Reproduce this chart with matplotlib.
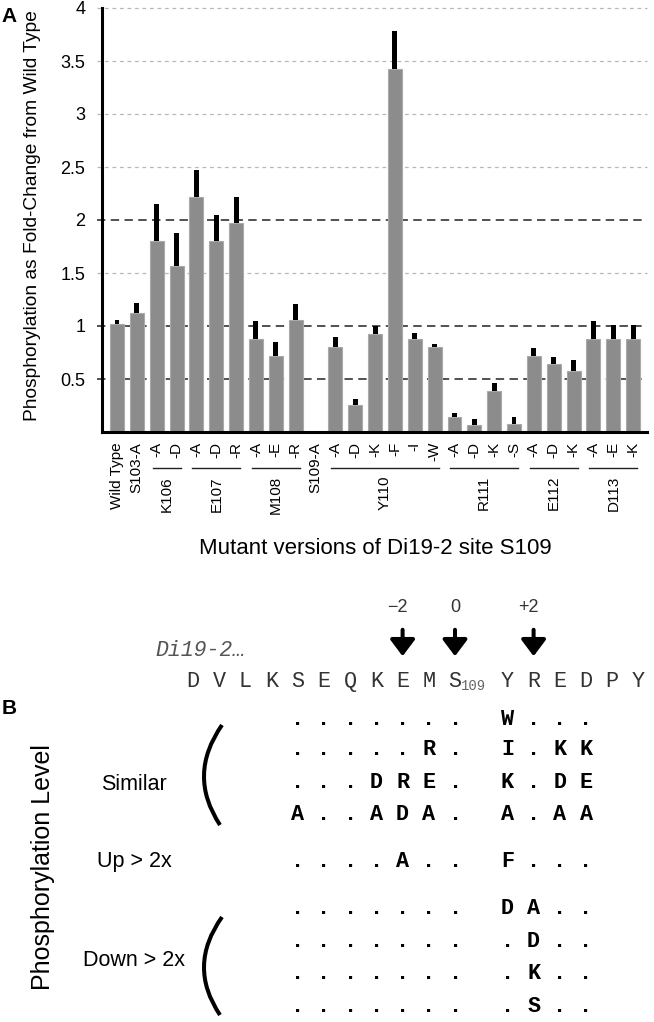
import numpy as np
import matplotlib
matplotlib.use("Agg")
import matplotlib.pyplot as plt
from matplotlib.path import Path
from matplotlib.patches import PathPatch, FancyArrowPatch

plt.rcParams['font.family'] = ['Liberation Sans', 'DejaVu Sans']

# ---- panel A data ----
groups = ["Wild Type", "S103-A", "K106", "E107", "M108", "S109-A",
          "Y110", "R111", "E112", "D113"]
suffixes = [[""], [""], ["-A", "-D"], ["-A", "-D", "-R"], ["-A", "-E", "-R"], [""],
            ["-A", "-D", "-K", "-F", "-I", "-W"], ["-A", "-D", "-K", "-S"],
            ["-A", "-D", "-K"], ["-A", "-E", "-K"]]
fold = [1.02, 1.12, 1.80, 1.57, 2.22, 1.80, 1.97, 0.88, 0.72, 1.06, 0.0,
        0.80, 0.25, 0.92, 3.42, 0.88, 0.80, 0.14, 0.07, 0.39, 0.075,
        0.72, 0.64, 0.58, 0.88, 0.88, 0.88]
err = [0.04, 0.10, 0.35, 0.31, 0.25, 0.25, 0.25, 0.17, 0.13, 0.15, 0.0,
       0.10, 0.065, 0.08, 0.36, 0.05, 0.03, 0.04, 0.05, 0.07, 0.07,
       0.07, 0.07, 0.10, 0.17, 0.13, 0.13]
yticks = [0.5, 1, 1.5, 2, 2.5, 3, 3.5, 4]
ytick_labels = ["0.5", "1", "1.5", "2", "2.5", "3", "3.5", "4"]
light_lines = [1.5, 2.5, 3, 3.5, 4]
dark_lines = [0.5, 1, 2]

# ---- panel B data ----
sequence = ["D", "V", "L", "K", "S", "E", "Q", "K", "E", "M", "S",
            "Y", "R", "E", "D", "P", "Y"]
site = 10
site_number = "109"
marked = [8, 10, 12]
marked_labels = ["\u22122", "0", "+2"]
left_start, right_start = 4, 11
similar_left = [".......", ".....R.", "...DRE.", "A..ADA."]
similar_right = ["W...", "I.KK", "K.DE", "A.AA"]
up_left = ["....A.."]
up_right = ["F..."]
down_left = [".......", ".......", ".......", "......."]
down_right = ["DA..", ".D..", ".K..", ".S.."]

W, H = 654, 1022
fig = plt.figure(figsize=(W / 100, H / 100), dpi=100)


def fx(p):
    return p / W


def fy(p):
    return 1 - p / H


# ================= panel A =================
ax = fig.add_axes([fx(102), fy(432), fx(647) - fx(102), (432 - 8) / H])
x = np.arange(len(fold))
fold = np.array(fold)
err = np.array(err)

for v in light_lines:
    ax.axhline(v, xmin=-0.009, xmax=1, color="#b8b8b8", lw=0.9,
               ls=(0, (3, 3)), zorder=0.5, clip_on=False)
for v in dark_lines:
    ax.axhline(v, xmin=-0.009, xmax=1, color="#222222", lw=1.1,
               ls=(0, (5.5, 3.5)), zorder=0.6, clip_on=False)

ax.bar(x, fold, width=0.7, color="#8c8c8c", edgecolor="#aaaaaa", lw=0.8, zorder=2)
ax.bar(x, err, bottom=fold, width=0.25, color="black", lw=0, zorder=3)

ax.set_xlim(-0.756, 26.7)
ax.set_ylim(0, 4)
for s in ["top", "right"]:
    ax.spines[s].set_visible(False)
for s in ["left", "bottom"]:
    ax.spines[s].set_linewidth(2.2)
    ax.spines[s].set_color("black")
ax.set_xticks([])
ax.set_yticks(yticks)
ax.set_yticklabels(ytick_labels)
ax.tick_params(axis="y", length=0, pad=12, labelsize=13)


def ay(p):
    return (432 - p) / 424


tr = ax.get_xaxis_transform()
i = 0
for g, suf in zip(groups, suffixes):
    idx = list(range(i, i + len(suf)))
    if len(suf) == 1 and suf[0] == "":
        ax.text(idx[0], ay(442), g, rotation=90, ha="center", va="top",
                fontsize=11, transform=tr, clip_on=False)
    else:
        for j, s in zip(idx, suf):
            ax.text(j, ay(442), s, rotation=90, ha="center", va="top",
                    fontsize=11, transform=tr, clip_on=False)
        ax.plot([idx[0] - 0.2, idx[-1] + 0.2], [ay(468), ay(468)], color="#222222",
                lw=1.0, transform=tr, clip_on=False)
        ax.text(np.mean(idx), ay(476), g, rotation=90, ha="center", va="top",
                fontsize=11, transform=tr, clip_on=False)
    i += len(suf)

fig.text(fx(33), fy(216), "Phosphorylation as Fold-Change from Wild Type",
         rotation=90, ha="center", va="center", fontsize=13.8)
fig.text(fx(375), fy(548), "Mutant versions of Di19-2 site S109",
         ha="center", va="center", fontsize=16)

# ================= panel B =================
axb = fig.add_axes([0, 0, 1, 1])
axb.set_xlim(0, W)
axb.set_ylim(H, 0)
axb.axis("off")

axb.text(9, 17, "A", ha="center", va="center", fontsize=15, fontweight="bold")
axb.text(9, 708, "B", ha="center", va="center", fontsize=15, fontweight="bold")

mono = ["Liberation Mono", "DejaVu Sans Mono"]
col0, step = 193, 26.2


def col(k):
    slot = k if k <= site else k + 1
    return col0 + step * slot


axb.text(155, 651, "Di19-2\u2026", family=mono, style="italic", fontsize=15.5,
         color="#555555", ha="left", va="center")

for k, ch in enumerate(sequence):
    axb.text(col(k), 687, ch, family=mono, fontsize=15.7, color="#333333",
             ha="center", va="baseline")
axb.text(col(site) + 6, 686, site_number, family=mono, fontsize=10,
         color="#666666", ha="left", va="center")

for k, lab in zip(marked, marked_labels):
    xa = col(k)
    axb.text(xa + 5, 607, lab, fontsize=13, color="#333333", ha="right", va="center")
    arr = FancyArrowPatch((xa, 627), (xa, 659),
                          arrowstyle="-|>,head_length=1.0,head_width=0.75",
                          mutation_scale=10, lw=2.9, color="black")
    axb.add_patch(arr)

row_y = [718, 748, 781, 813, 860, 907, 940, 972, 1005]
left_rows = similar_left + up_left + down_left
right_rows = similar_right + up_right + down_right
for yc, lrow, rrow in zip(row_y, left_rows, right_rows):
    for start, row in [(left_start, lrow), (right_start, rrow)]:
        for j, ch in enumerate(row):
            axb.text(col(start + j), yc + 6.7, ch, family=mono, fontweight="bold",
                     fontsize=15.7, color="black", ha="center", va="baseline")

for y0, y1 in [(725, 825), (917, 1015)]:
    p = Path([(222, y0), (187, (y0 + y1) / 2), (220, y1)],
             [Path.MOVETO, Path.CURVE3, Path.CURVE3])
    axb.add_patch(PathPatch(p, fill=False, lw=2.9, color="black"))

axb.text(134, 785, "Similar", fontsize=15.5, ha="center", va="center")
axb.text(134, 862, "Up > 2x", fontsize=15.5, ha="center", va="center")
axb.text(134, 960, "Down > 2x", fontsize=15.5, ha="center", va="center")
axb.text(43, 867, "Phosphorylation Level", rotation=90, fontsize=18,
         ha="center", va="center")

fig.savefig("out.png", dpi=100)
